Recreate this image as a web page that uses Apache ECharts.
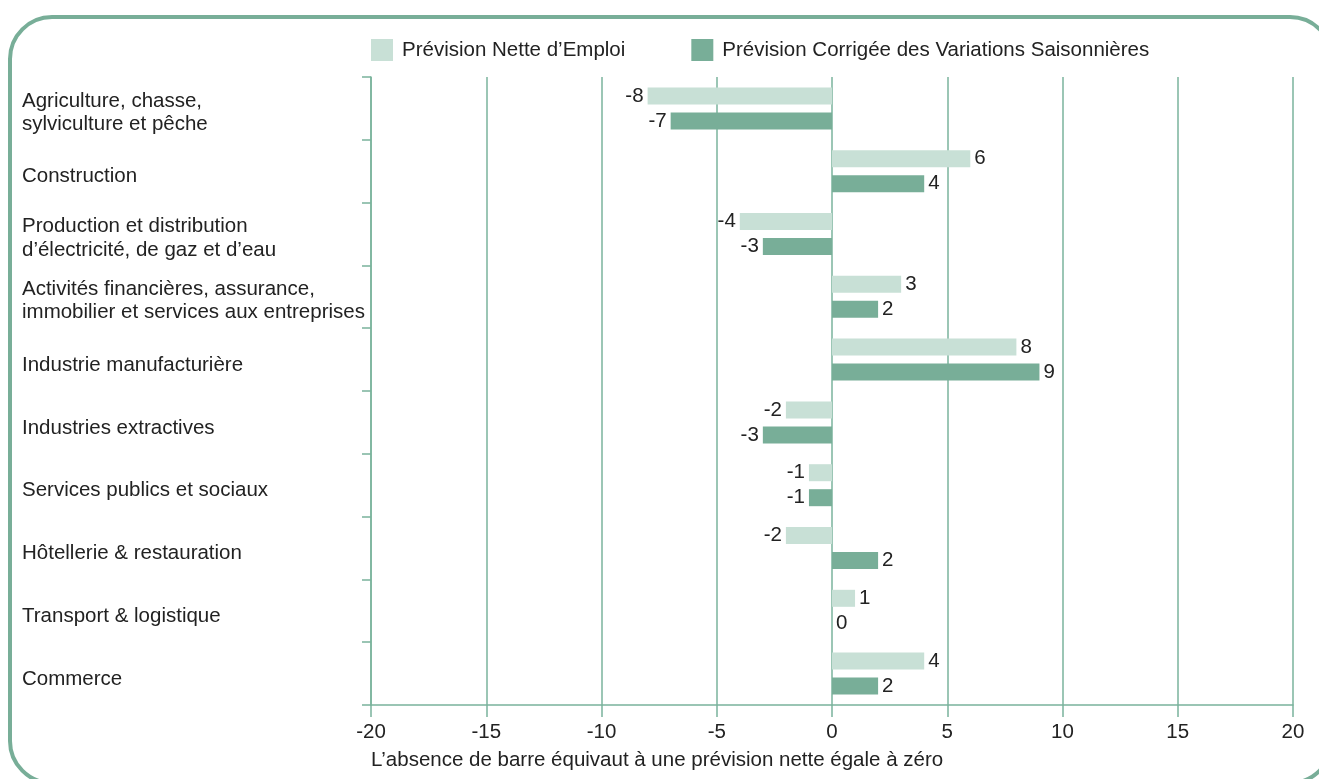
<!DOCTYPE html>
<html>
<head>
<meta charset="utf-8">
<script src="https://cdn.jsdelivr.net/npm/echarts@6/dist/echarts.min.js"></script>
<style>
  html, body { margin: 0; padding: 0; background: #fff; }
  #chart { width: 1319px; height: 779px; }
</style>
</head>
<body>
<div id="chart"></div>
<script>
const categories = [
  "Agriculture, chasse,\nsylviculture et pêche",
  "Construction",
  "Production et distribution\nd’électricité, de gaz et d’eau",
  "Activités financières, assurance,\nimmobilier et services aux entreprises",
  "Industrie manufacturière",
  "Industries extractives",
  "Services publics et sociaux",
  "Hôtellerie & restauration",
  "Transport & logistique",
  "Commerce"
];
const netForecast = [-8, 6, -4, 3, 8, -2, -1, -2, 1, 4];
const adjustedForecast = [-7, 4, -3, 2, 9, -3, -1, 2, 0, 2];
const seriesNames = ["Prévision Nette d’Emploi", "Prévision Corrigée des Variations Saisonnières"];
const note = "L’absence de barre équivaut à une prévision nette égale à zéro";

const green = "#78ae98";
const lightGreen = "#c8e0d6";
const lineGreen = "#7ab39c";
const font = "'Liberation Sans', Arial, sans-serif";

const chart = echarts.init(document.getElementById("chart"));

const barLabel = {
  show: true,
  distance: 4,
  color: "#222",
  fontSize: 20.5,
  fontFamily: font
};

// negative values get their label on the left of the bar
const withLabelSide = arr => arr.map(v => ({ value: v, label: { position: v < 0 ? "left" : "right" } }));

chart.setOption({
  animation: false,
  textStyle: { fontFamily: font },
  graphic: [
    {
      type: "rect",
      shape: { x: 10, y: 17, width: 1322, height: 766, r: 42 },
      style: { fill: "none", stroke: green, lineWidth: 4 },
      z: -1
    },
    {
      type: "text",
      left: 371,
      top: 750,
      style: { text: note, fill: "#222", fontSize: 20.5, fontFamily: font }
    }
  ],
  legend: {
    left: 366,
    top: 34,
    itemWidth: 22,
    itemHeight: 22,
    itemGap: 66,
    icon: "rect",
    textStyle: { fontSize: 20.5, color: "#222", fontFamily: font, padding: [0, 0, 0, 4] },
    data: seriesNames
  },
  grid: { left: 371, right: 26, top: 77, bottom: 74, containLabel: false },
  xAxis: {
    type: "value",
    min: -20,
    max: 20,
    interval: 5,
    axisLine: { show: true, lineStyle: { color: lineGreen, width: 1.5 } },
    axisTick: { show: true, length: 12, lineStyle: { color: lineGreen, width: 1.5 } },
    axisLabel: { fontSize: 20.5, color: "#222", margin: 17, fontFamily: font },
    splitLine: { show: true, lineStyle: { color: lineGreen, width: 1.5 } }
  },
  yAxis: {
    type: "category",
    inverse: true,
    data: categories,
    axisLine: { show: true, onZero: false, lineStyle: { color: lineGreen, width: 1.5 } },
    axisTick: { show: true, length: 9, lineStyle: { color: lineGreen, width: 1.5 } },
    axisLabel: {
      align: "left",
      margin: 349,
      // push the block a few px down: first line gets a taller box
      formatter: v => v.split("\n").map((s, i) => (i === 0 ? "{f|" : "{n|") + s + "}").join("\n"),
      rich: {
        f: { lineHeight: 32, verticalAlign: "bottom", fontSize: 20.5, color: "#222", fontFamily: font },
        n: { lineHeight: 26, fontSize: 20.5, color: "#222", fontFamily: font }
      }
    }
  },
  series: [
    {
      name: seriesNames[0],
      type: "bar",
      data: withLabelSide(netForecast),
      barWidth: 17,
      barGap: "47%",
      itemStyle: { color: lightGreen },
      label: barLabel
    },
    {
      name: seriesNames[1],
      type: "bar",
      data: withLabelSide(adjustedForecast),
      barWidth: 17,
      barGap: "47%",
      itemStyle: { color: green },
      label: barLabel
    }
  ]
});
</script>
</body>
</html>
